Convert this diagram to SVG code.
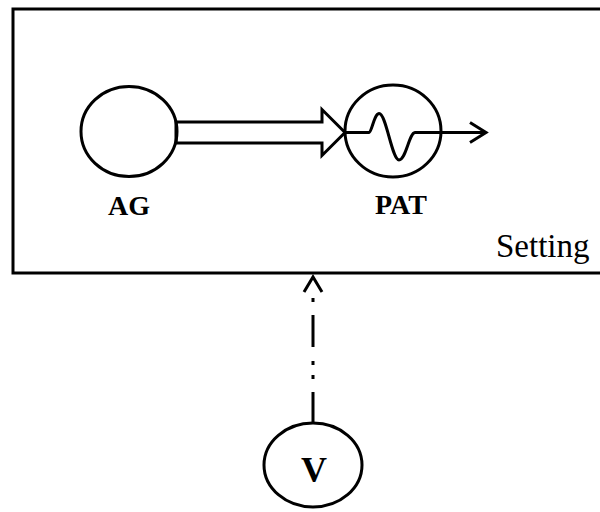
<svg xmlns="http://www.w3.org/2000/svg" width="600" height="512" viewBox="0 0 600 512">
<style>
.s{fill:none;stroke:#000;stroke-width:3}
.lbl{font-family:"Liberation Serif","Times New Roman",serif;font-weight:bold;fill:#000;text-anchor:middle}
.set{font-family:"Liberation Serif","Times New Roman",serif;fill:#000}
</style>
<rect width="600" height="512" fill="#fff"/>
<g id="setting">
<rect x="13" y="9" width="600" height="264" class="s"/>
<text x="496" y="257" class="set" font-size="33">Setting</text>
</g>
<g id="AG">
<ellipse cx="129" cy="131.5" rx="48" ry="45" class="s"/>
<text x="129" y="215" class="lbl" font-size="28">AG</text>
</g>
<g id="PAT">
<ellipse cx="393" cy="131" rx="48" ry="46" class="s"/>
<path d="M345 132.5 H369 C372 132 374 114 379 113.5 C386 113 392 160 399 160 C406 160 409 133 415 132.5 H486" class="s" stroke-linejoin="round"/>
<path d="M470 122.5 L486 132.5 L470 142.5" class="s"/>
<text x="401" y="213.5" class="lbl" font-size="28">PAT</text>
</g>
<g id="V">
<ellipse cx="313" cy="465" rx="49" ry="42" class="s"/>
<text x="314" y="482" class="lbl" font-size="36">V</text>
</g>
<g id="connectors">
<polygon points="176,122 322,122 322,109.5 345,132.5 322,155.5 322,143 176,143" class="s"/>
<path d="M313 423 V392 M313 375 V379 M313 361 V365 M313 347 V315 M313 298 V302" class="s"/>
<path d="M304 292 L313 277 L322 292" class="s"/>
</g>
</svg>
